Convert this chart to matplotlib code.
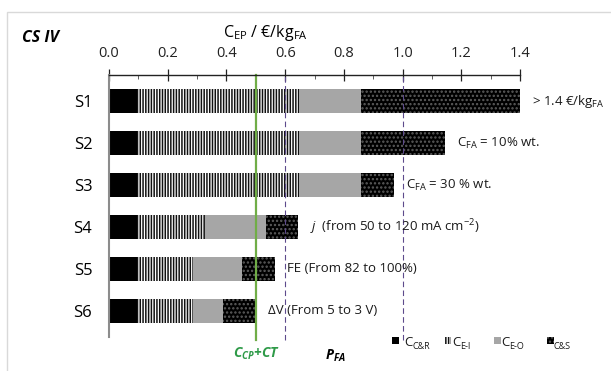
import matplotlib
matplotlib.use("Agg")
import matplotlib.pyplot as plt
from matplotlib.patches import Rectangle
from matplotlib.ticker import MultipleLocator, FormatStrFormatter

plt.rcParams['font.family'] = ['Open Sans', 'DejaVu Sans']
plt.rcParams['mathtext.fontset'] = 'custom'
plt.rcParams['mathtext.rm'] = 'Open Sans'
plt.rcParams['mathtext.it'] = 'Open Sans:italic'
plt.rcParams['mathtext.bf'] = 'Open Sans:bold:italic'
plt.rcParams['hatch.linewidth'] = 1.1

# Scenarios and cost breakdown (€/kg FA)
scenarios = ["S1", "S2", "S3", "S4", "S5", "S6"]
c_cr = [0.094, 0.094, 0.094, 0.094, 0.094, 0.094]
c_ei = [0.556, 0.556, 0.556, 0.233, 0.191, 0.191]
c_eo = [0.210, 0.210, 0.210, 0.207, 0.169, 0.103]
c_cs = [0.540, 0.285, 0.110, 0.111, 0.111, 0.112]

notes = [r"> 1.4 €/kg$_{\mathrm{FA}}$",
         r"C$_{\mathrm{FA}}$ = 10% wt.",
         r"C$_{\mathrm{FA}}$ = 30 % wt.",
         r"$\it{j}$  (from 50 to 120 mA cm$^{\mathrm{-2}}$)",
         "FE (From 82 to 100%)",
         "ΔV (From 5 to 3 V)"]

cp_ct = 0.5          # production + capture cost threshold
p_fa = [0.6, 1.0]    # formic acid price range

W, H = 611, 371
fig = plt.figure(figsize=(W / 100, H / 100), dpi=100)
ax = fig.add_axes([109 / W, 1 - 337 / H, 411 / W, (337 - 75) / H])
renderer = fig.canvas.get_renderer()

ei_style = dict(facecolor="white", edgecolor="#111111", hatch="||||||", lw=0)
cs_style = dict(facecolor="black", edgecolor="#5e5e5e", hatch="....", lw=0)

y = list(range(len(scenarios)))
h = 0.57
left = [0.0] * len(y)
ax.barh(y, c_cr, height=h, left=left, color="black", lw=0)
left = [a + b for a, b in zip(left, c_cr)]
ax.barh(y, c_ei, height=h, left=left, **ei_style)
left = [a + b for a, b in zip(left, c_ei)]
ax.barh(y, c_eo, height=h, left=left, color="#a6a6a6", lw=0)
left = [a + b for a, b in zip(left, c_eo)]
ax.barh(y, c_cs, height=h, left=left, **cs_style)
totals = [a + b for a, b in zip(left, c_cs)]

xmax = 1.4
for yi, tot, note in zip(y, totals, notes):
    ax.text(min(tot, xmax) + 0.04, yi, note, va="center", ha="left", fontsize=9.5,
            color="#1a1a1a")

ax.set_xlim(0, xmax)
ax.set_ylim(5.62, -0.62)

# reference lines
ax.axvline(cp_ct, ymin=-0.01, ymax=1, color="#70ad47", lw=1.6, clip_on=False)
for p in p_fa:
    ax.axvline(p, ymin=-0.01, ymax=1, color="#5d4a8c", lw=0.8, ls=(0, (5, 3)),
               clip_on=False)

ax.xaxis.tick_top()
ax.xaxis.set_major_locator(MultipleLocator(0.2))
ax.xaxis.set_minor_locator(MultipleLocator(0.1))
ax.xaxis.set_major_formatter(FormatStrFormatter("%.1f"))
ax.tick_params(axis="x", which="major", direction="inout", length=8, width=0.9,
               pad=6, labelsize=10.5, colors="#222222")
ax.tick_params(axis="x", which="minor", direction="in", length=3, width=0.6,
               colors="#444444")
ax.set_yticks(y)
ax.set_yticklabels(scenarios, fontsize=12)
ax.tick_params(axis="y", length=0, pad=12)

for s in ["right", "bottom"]:
    ax.spines[s].set_visible(False)
ax.spines["top"].set_color("#222222")
ax.spines["top"].set_linewidth(1.0)
ax.spines["left"].set_color("#8c8c8c")
ax.spines["left"].set_linewidth(1.5)

# titles and labels
fig.text(265 / W, 1 - 33 / H, r"C$_{\mathrm{EP}}$ / €/kg$_{\mathrm{FA}}$",
         ha="center", va="center", fontsize=11.5)
fig.text(22 / W, 1 - 38 / H, "CS IV", ha="left", va="center", fontsize=11.5,
         fontweight="bold", style="italic")
fig.text(257 / W, 1 - 354 / H, r"C$_{\mathbf{CP}}$+CT", ha="center", va="center",
         fontsize=10, fontweight="bold", style="italic", color="#2e9a48")
fig.text(335 / W, 1 - 356 / H, r"P$_{\mathbf{FA}}$", ha="center", va="center",
         fontsize=10, fontweight="bold", style="italic")


def sub_label(x_px, y_px, base, sub, fs=9.5):
    """Text with a plain-text subscript placed after the base string."""
    xb = x_px
    if base:
        t = fig.text(x_px / W, 1 - y_px / H, base, fontsize=fs, va="baseline",
                     ha="left", color="#1a1a1a")
        xb = t.get_window_extent(renderer).x1
    fig.text(xb / W, 1 - (y_px + 3) / H, sub, fontsize=fs * 0.68, va="baseline",
             ha="left", color="#1a1a1a")


# legend
leg_base = 346
sq = 7
legend_items = [
    (392, dict(facecolor="black", lw=0), "C", "C&R", 404),
    (444, ei_style, "C", "E-I", 452),
    (494, dict(facecolor="#a6a6a6", lw=0), "C", "E-O", 501),
    (547, cs_style, "", "C&S", 554),
]
for x0, style, base, sub, xt in legend_items:
    fig.patches.append(Rectangle((x0 / W, 1 - 344 / H), sq / W, sq / H,
                                 transform=fig.transFigure, **style))
    sub_label(xt, leg_base, base, sub)

# outer frame
fig.patches.append(Rectangle((7 / W, -0.05), 1.1, 1 - 12 / H + 0.05,
                             transform=fig.transFigure, facecolor="none",
                             edgecolor="#d9d9d9", lw=1.0))

fig.savefig("out.png", dpi=100)
